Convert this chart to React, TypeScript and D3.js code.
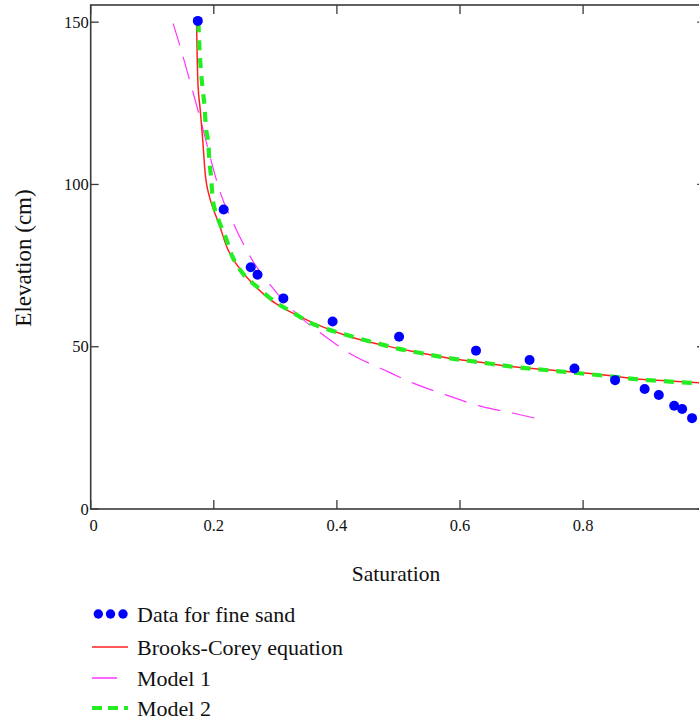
import React from "react";
import * as d3 from "d3";

// Measured data for fine sand
const dataSat = [0.174, 0.216, 0.260, 0.271, 0.313, 0.393, 0.501, 0.626, 0.713, 0.786, 0.852, 0.900, 0.923, 0.948, 0.961, 0.977];
const dataElev = [150.4, 92.3, 74.5, 72.2, 64.9, 57.8, 53.1, 48.8, 45.9, 43.3, 39.7, 37.0, 35.1, 31.8, 30.8, 28.0];

// Brooks-Corey equation
const bcSat = [0.172, 0.174, 0.178, 0.182, 0.186, 0.193, 0.199, 0.210, 0.221, 0.240, 0.264, 0.291, 0.313, 0.340, 0.367, 0.421, 0.475, 0.524, 0.578, 0.633, 0.687, 0.746, 0.838, 0.892, 0.947, 1.0];
const bcElev = [150, 132.2, 122.9, 113.7, 103.4, 96.2, 92.6, 87.0, 80.8, 74.6, 69.3, 64.6, 61.9, 59.3, 56.9, 53.1, 50.5, 48.5, 46.6, 45.2, 43.8, 42.8, 41.2, 40.0, 39.4, 38.8];

// Model 1
const m1Sat = [0.134, 0.147, 0.163, 0.180, 0.194, 0.210, 0.233, 0.260, 0.294, 0.340, 0.378, 0.424, 0.475, 0.524, 0.578, 0.633, 0.687, 0.724];
const m1Elev = [149.6, 141.4, 130.6, 118.8, 108.5, 97.8, 87.5, 77.5, 68.5, 59.2, 53.6, 47.6, 43.0, 38.8, 35.1, 31.7, 29.5, 27.9];

// Model 2
const m2Sat = [0.175, 0.177, 0.179, 0.182, 0.185, 0.187, 0.191, 0.193, 0.196, 0.198, 0.206, 0.219, 0.229, 0.245, 0.270, 0.299, 0.329, 0.356, 0.383, 0.413, 0.440, 0.467, 0.497, 0.524, 0.578, 0.633, 0.687, 0.746, 0.838, 0.892, 0.947, 1.0];
const m2Elev = [150, 140.9, 135.2, 129.3, 123.9, 118.0, 112.7, 107.0, 101.4, 95.7, 90.0, 83.9, 78.3, 73.1, 68.5, 63.9, 60.5, 57.4, 55.5, 53.8, 52.3, 51.0, 49.5, 48.5, 46.6, 45.2, 43.8, 42.7, 41.0, 39.9, 39.2, 38.6];

const xTicks = [0, 0.2, 0.4, 0.6, 0.8, 1];
// the "1" label falls outside the visible picture, as in the reference
const xTickLabels = ["0", "0.2", "0.4", "0.6", "0.8", ""];
const yTicks = [0, 50, 100, 150];
const yTickLabels = ["0", "50", "100", "150"];

const legendLabels = ["Data for fine sand", "Brooks-Corey equation", "Model 1", "Model 2"];

const FONT = "'Liberation Serif', 'Times New Roman', serif";

export default function App() {
  const left = 90.7, right = 706.2, top = 5, bottom = 509;
  const x = d3.scaleLinear().domain([0, 1]).range([left, right]);
  const y = d3.scaleLinear().domain([0, 155.3]).range([bottom, top]);

  const line = (xs: number[], ys: number[]) =>
    d3.line<number>()
      .x((_, i) => x(xs[i]))
      .y((_, i) => y(ys[i]))
      .curve(d3.curveMonotoneX)(xs) || "";

  const axisColor = "#3a3a3a";
  const legendX = 92;
  const legendRows = [614, 647, 678, 708];

  return (
    <svg width={699} height={723} style={{ position: "absolute", left: 0, top: 0, background: "#fff" }}
      fontFamily={FONT}>
      <defs>
        <clipPath id="plot">
          <rect x={left} y={top} width={right - left} height={bottom - top} />
        </clipPath>
      </defs>
      {/* frame */}
      <rect x={left} y={top} width={right - left} height={bottom - top} fill="none" stroke={axisColor} strokeWidth={1.6} />
      {/* x ticks */}
      {xTicks.map((t, i) => (
        <g key={"xt" + i}>
          <line x1={x(t)} x2={x(t)} y1={bottom} y2={bottom - 9} stroke={axisColor} strokeWidth={1.3} />
          <line x1={x(t)} x2={x(t)} y1={top} y2={top + 9} stroke={axisColor} strokeWidth={1.3} />
          {xTickLabels[i] && (
            <text x={x(t) + (i === 0 ? 3 : 0)} y={531} textAnchor="middle" fontSize={16.5} fill="#111">{xTickLabels[i]}</text>
          )}
        </g>
      ))}
      {/* y ticks */}
      {yTicks.map((t, i) => (
        <g key={"yt" + i}>
          <line x1={left} x2={left + 8} y1={y(t)} y2={y(t)} stroke={axisColor} strokeWidth={1.3} />
          <line x1={right} x2={right - 9} y1={y(t)} y2={y(t)} stroke={axisColor} strokeWidth={1.3} />
          <text x={left - 2} y={y(t) + 5.5} textAnchor="end" fontSize={16.5} fill="#111">{yTickLabels[i]}</text>
        </g>
      ))}
      {/* axis titles */}
      <text x={396} y={581} textAnchor="middle" fontSize={21.5} fill="#111">Saturation</text>
      <text transform={`translate(31,258) rotate(-90)`} textAnchor="middle" fontSize={23} fill="#111">Elevation (cm)</text>

      <g clipPath="url(#plot)">
        <path d={line(m1Sat, m1Elev)} fill="none" stroke="#ff33ff" strokeWidth={1.2} strokeDasharray="23 12" />
        <path d={line(bcSat, bcElev)} fill="none" stroke="#ff2020" strokeWidth={1.5} />
        <path d={line(m2Sat, m2Elev)} fill="none" stroke="#22ee22" strokeWidth={4.2} strokeDasharray="10 8" />
        {dataSat.map((s, i) => (
          <circle key={"d" + i} cx={x(s)} cy={y(dataElev[i])} r={5} fill="#0000ff" />
        ))}
      </g>

      {/* legend */}
      <g>
        {[98.3, 110.5, 123].map((cx, i) => (
          <circle key={"ld" + i} cx={cx} cy={legendRows[0]} r={4.7} fill="#0000ff" />
        ))}
        <line x1={legendX} x2={128} y1={legendRows[1]} y2={legendRows[1]} stroke="#ff2020" strokeWidth={1.5} />
        <line x1={legendX} x2={117} y1={legendRows[2]} y2={legendRows[2]} stroke="#ff33ff" strokeWidth={1.5} />
        <line x1={legendX} x2={128} y1={legendRows[3]} y2={legendRows[3]} stroke="#22ee22" strokeWidth={4.2} strokeDasharray="10 6" />
        {legendLabels.map((l, i) => (
          <text key={"lt" + i} x={137} y={legendRows[i] + 8} fontSize={22} fill="#111">{l}</text>
        ))}
      </g>
    </svg>
  );
}
